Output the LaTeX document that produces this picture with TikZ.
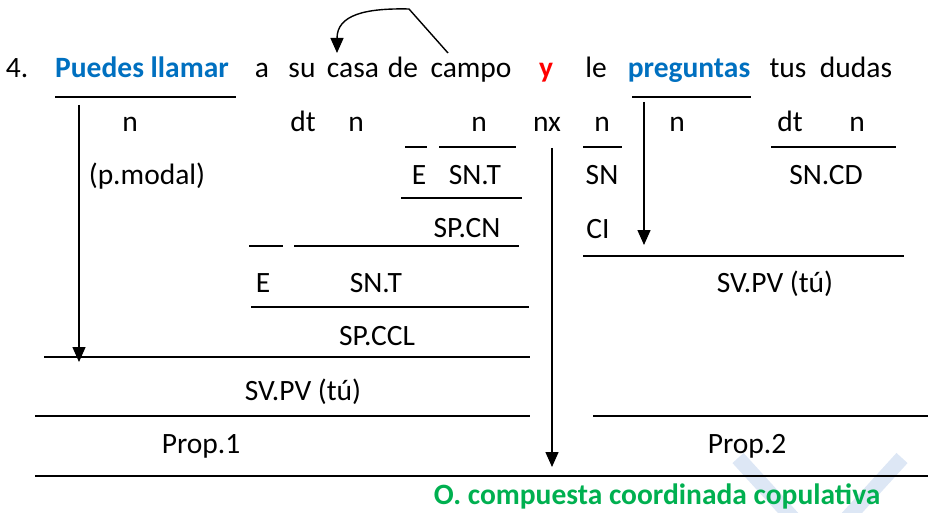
\documentclass[tikz,border=0pt]{standalone}
\usepackage{fontspec}
\setmainfont{Carlito}
\usetikzlibrary{arrows.meta}

\definecolor{verbblue}{RGB}{0,112,192}
\definecolor{nexred}{RGB}{255,0,0}
\definecolor{propgreen}{RGB}{0,176,80}
\definecolor{markblue}{RGB}{221,231,245}

\tikzset{
  lab/.style={anchor=base, inner sep=0pt, font=\fontsize{29.5}{36}\selectfont},
  boldlab/.style={lab, font=\fontsize{29.5}{36}\selectfont\bfseries},
  bar/.style={line width=1.4pt},
  >={Triangle[width=13pt,length=15pt]}
}

\begin{document}
\begin{tikzpicture}[x=1pt,y=-1pt]
\useasboundingbox (0,0) rectangle (928,513);

            % Watermark
            \begin{scope}
                \clip (0,0) rectangle (928,513);
                \draw[markblue, line width=15pt] (738,458) -- (820,548) -- (902,458);
            \end{scope}

            % Sentence
            \foreach \x/\w/\nm in {17/4./num, 262/a/a, 302/su/su, 353/casa/casa, 403/de/de,
                                   471/campo/campo, 596/le/le, 788/tus/tus, 856/dudas/dudas} {
                \node[lab] (\nm) at (\x,78) {\w};
            }
            \node[boldlab, text=verbblue] (llamar) at (142,78) {Puedes llamar};
            \node[boldlab, text=nexred] (conj) at (546,78) {y};
            \node[boldlab, text=verbblue] (preguntas) at (689,78) {preguntas};

            % Word classes
            \foreach \x/\w [count=\i] in {130/n, 303/dt, 356/n, 479/n, 547/nx, 602/n, 677/n, 790/dt, 857/n} {
                \node[lab] (cls\i) at (\x,132) {\w};
            }

            % Functions
            \node[lab] (modal) at (147,185) {(p.modal)};
            \node[lab] (enlA) at (419,185) {E};
            \node[lab] (termA) at (475,185) {SN.T};
            \node[lab] (ci) at (602,185) {SN};
            \node[lab] (cd) at (826,185) {SN.CD};
            \node[lab] (cn) at (467,237) {SP.CN};
            \node[lab] (ciF) at (598,238) {CI};
            \node[lab] (enlB) at (263,292) {E};
            \node[lab] (termB) at (376,292) {SN.T};
            \node[lab] (pvB) at (775,292) {SV.PV (tú)};
            \node[lab] (ccl) at (377,345) {SP.CCL};
            \node[lab] (pvA) at (303,400) {SV.PV (tú)};
            \node[lab] (propA) at (201,453) {Prop.1};
            \node[lab] (propB) at (747,453) {Prop.2};
            \node[boldlab, text=propgreen] (total) at (657,504) {O. compuesta coordinada copulativa};

            % Bars
            \foreach \y/\a/\b in {97/55/236, 97/632/751,
                                  147/405/427, 147/439/516, 147/583/622, 147/771/896,
                                  198/401/522, 246/249/283, 246/294/519, 256/583/904,
                                  307/251/529, 357/44/530, 416/35/530, 416/593/928, 476/35/928} {
                \draw[bar] (\a,\y) -- (\b,\y);
            }

            % Arrows
            \coordinate (llamar-top) at (79,105);
            \coordinate (llamar-end) at (79,362);
            \draw[bar, ->] (llamar-top) -- (llamar-end);

            \coordinate (conj-top) at (552,148);
            \coordinate (conj-end) at (552,467);
            \draw[bar, ->] (conj-top) -- (conj-end);

            \coordinate (preg-top) at (644,102);
            \coordinate (preg-end) at (644,245);
            \draw[bar, ->] (preg-top) -- (preg-end);

            % campo -> casa
            \coordinate (campo-foot) at (448,53);
            \coordinate (campo-head) at (409,9);
            \coordinate (casa-tip) at (337,53);
            \draw[bar, ->] (campo-foot) -- (campo-head) .. controls (365,8) and (337,15) .. (casa-tip);

\end{tikzpicture}
\end{document}
